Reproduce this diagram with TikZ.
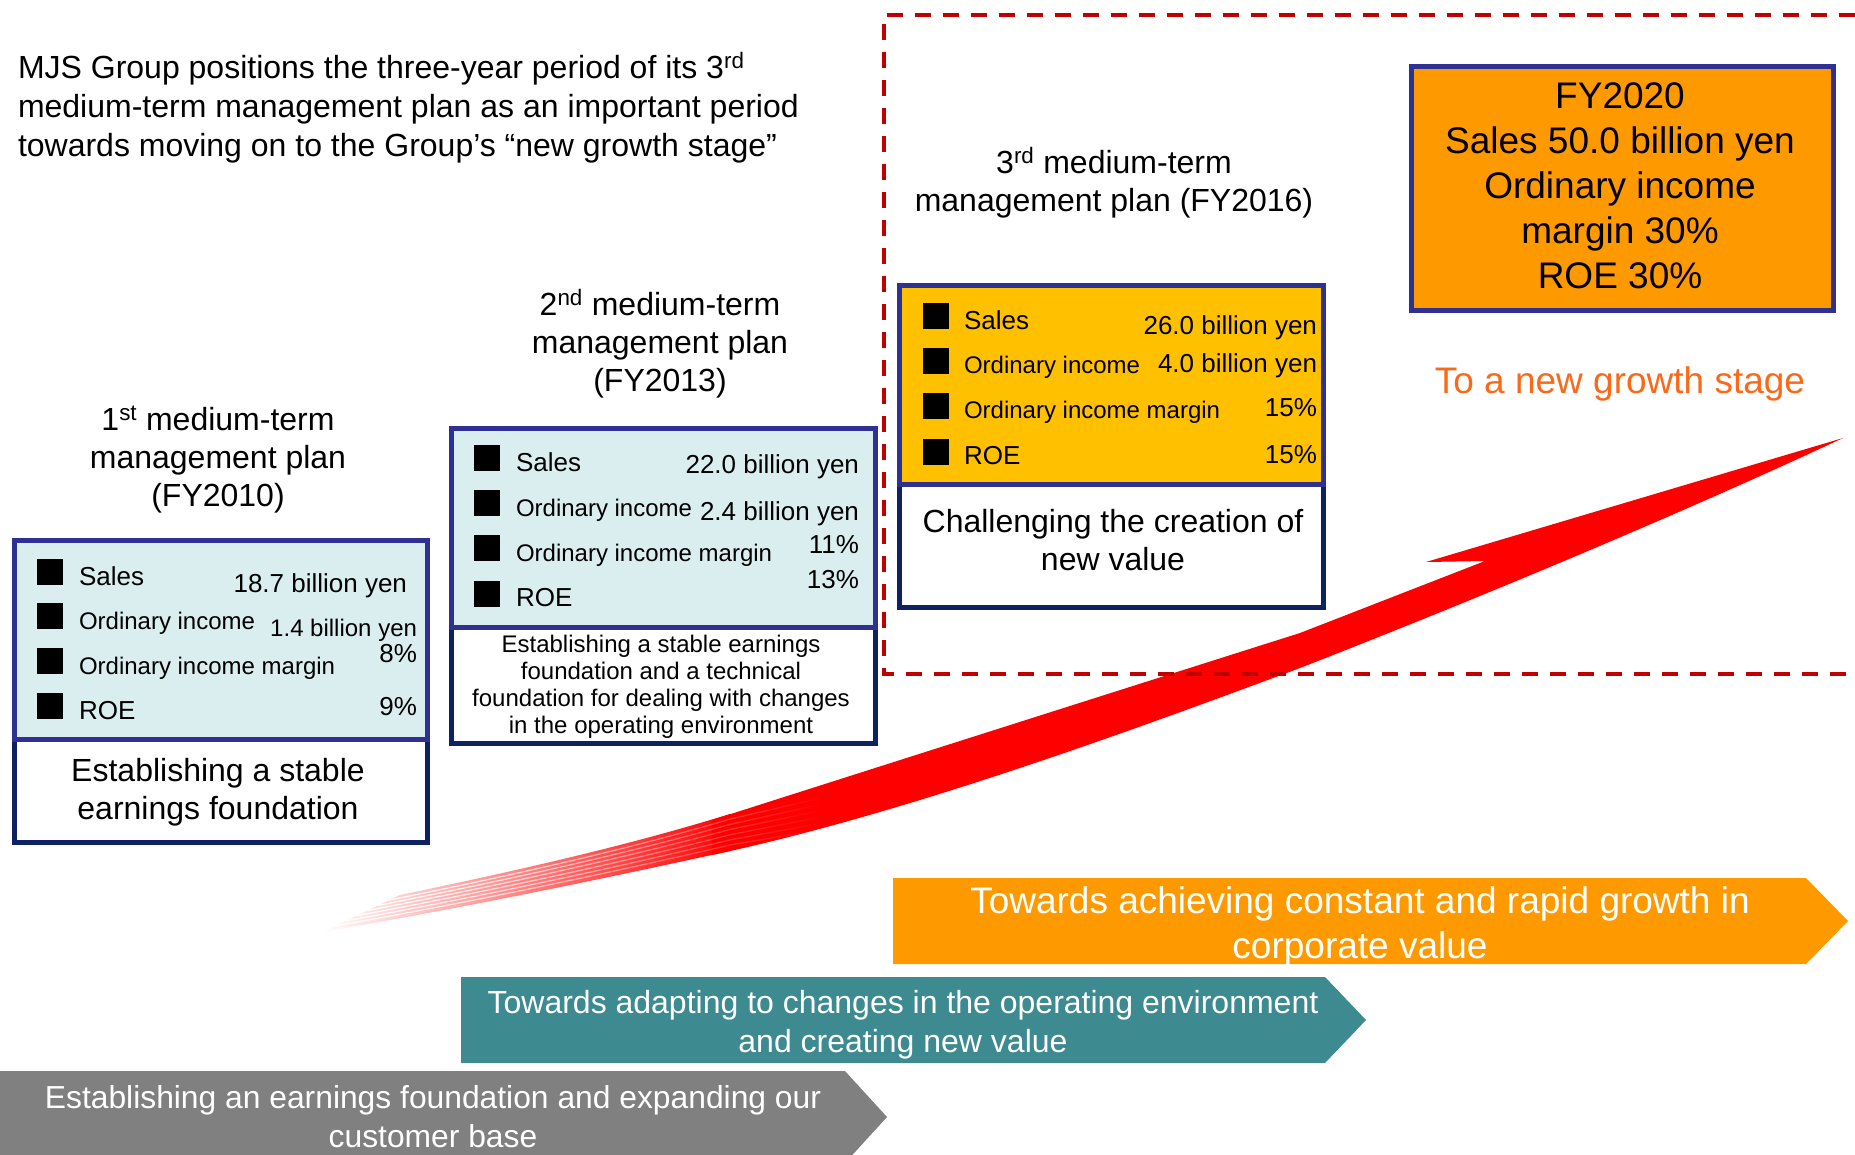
\documentclass[tikz,border=0pt]{standalone}
\usepackage{fontspec}
\setmainfont{Liberation Sans}
\usetikzlibrary{fadings}

\definecolor{navyline}{RGB}{13,33,99}
\definecolor{frameblue}{RGB}{46,49,146}
\definecolor{paleblue}{RGB}{218,238,240}
\definecolor{goldfill}{RGB}{255,192,0}
\definecolor{amberfill}{RGB}{255,153,0}
\definecolor{stageteal}{RGB}{61,139,145}
\definecolor{stagegray}{RGB}{128,128,128}
\definecolor{dashred}{RGB}{192,0,0}
\definecolor{growthorange}{RGB}{250,105,25}
\definecolor{swooshred}{RGB}{255,0,0}

\newcommand\fsz[2]{\fontsize{#1}{#2}\selectfont}

% tail of the swoosh: opaque on the right half, fading out to the left
\tikzfading[name=tailfade, left color=transparent!100, middle color=transparent!0, right color=transparent!0]
% feather gaps: visible on the left, vanishing towards the solid body
\tikzfading[name=gapfade, left color=transparent!0, right color=transparent!100]

\tikzset{
  txt/.style={inner sep=0pt, outer sep=0pt},
  lbl/.style={txt, font=\fsz{26}{31}},
  lblsm/.style={txt, font=\fsz{24}{29}},
  bulletsq/.style={fill=black, minimum size=26pt, inner sep=0pt, outer sep=0pt},
  headtext/.style={txt, align=center, font=\fsz{32}{38}},
  boxlower/.style={draw=navyline, fill=white, line width=5pt, inner sep=0pt, anchor=north west},
  boxupper/.style={draw=frameblue, line width=5pt, inner sep=0pt, anchor=north west},
  stagetext/.style={txt, align=center, text=white},
}

\begin{document}
\begin{tikzpicture}[x=1pt, y=-1pt]
\useasboundingbox (0,0) rectangle (1855,1154);

% ---- stage arrows along the bottom (multi-line nodes sit on their last baseline) ----
\fill[stagegray] (0,1071) -- (845,1071) -- (887,1117) -- (845,1163) -- (0,1163) -- cycle;
\node[stagetext, anchor=base, font=\fsz{31.8}{39}] (stage1) at (433,1147)
  {Establishing an earnings foundation and expanding our\\customer base};

\fill[stageteal] (461,977) -- (1325,977) -- (1366,1020) -- (1325,1063) -- (461,1063) -- cycle;
\node[stagetext, anchor=base, font=\fsz{32}{39}] (stage2) at (903,1052)
  {Towards adapting to changes in the operating environment\\and creating new value};

\fill[amberfill] (893,878) -- (1806,878) -- (1848,921) -- (1806,964) -- (893,964) -- cycle;
\node[stagetext, anchor=base, font=\fsz{37}{45}] (stage3) at (1360,958)
  {Towards achieving constant and rapid growth in\\corporate value};

% ---- intro text ----
\node[txt, anchor=base west, align=left, font=\fsz{32}{39}] (intro) at (18,156)
  {MJS Group positions the three-year period of its 3\textsuperscript{rd}\\
   medium-term management plan as an important period\\
   towards moving on to the Group’s “new growth stage”};

% ---- 1st plan ----
\node[headtext, anchor=base] (h1) at (218,506)
  {1\textsuperscript{st} medium-term\\management plan\\(FY2010)};
\node[boxlower, minimum width=413, minimum height=102.5] (p1low) at (11.5,737) {};
\node[boxupper, fill=paleblue, minimum width=413, minimum height=199.5] (p1up) at (11.5,537.5) {};
\node[bulletsq] (p1q1) at (49.5,572) {};
\node[bulletsq] (p1q2) at (49.5,616) {};
\node[bulletsq] (p1q3) at (49.5,661) {};
\node[bulletsq] (p1q4) at (49.5,706) {};
\node[lbl, anchor=base west] (p1l1) at (79,585) {Sales};
\node[lblsm, anchor=base west] (p1l2) at (79,629) {Ordinary income};
\node[lblsm, anchor=base west] (p1l3) at (79,674) {Ordinary income margin};
\node[lbl, anchor=base west] (p1l4) at (79,719) {ROE};
\node[lbl, anchor=base east] (p1v1) at (407,592) {18.7 billion yen};
\node[lblsm, anchor=base east] (p1v2) at (417,636) {1.4 billion yen};
\node[lbl, anchor=base east] (p1v3) at (417,662) {8\%};
\node[lbl, anchor=base east] (p1v4) at (417,715) {9\%};
\node[txt, align=center, anchor=base, font=\fsz{32}{38}] (p1goal) at (218,819)
  {Establishing a stable\\earnings foundation};

% ---- 2nd plan ----
\node[headtext, anchor=base] (h2) at (660,391)
  {2\textsuperscript{nd} medium-term\\management plan\\(FY2013)};
\node[boxlower, minimum width=424, minimum height=115.5] (p2low) at (448.5,625) {};
\node[boxupper, fill=paleblue, minimum width=424, minimum height=199.5] (p2up) at (448.5,425.5) {};
\node[bulletsq] (p2q1) at (487,458) {};
\node[bulletsq] (p2q2) at (487,503) {};
\node[bulletsq] (p2q3) at (487,548) {};
\node[bulletsq] (p2q4) at (487,594) {};
\node[lbl, anchor=base west] (p2l1) at (516,471) {Sales};
\node[lblsm, anchor=base west] (p2l2) at (516,516) {Ordinary income};
\node[lblsm, anchor=base west] (p2l3) at (516,561) {Ordinary income margin};
\node[lbl, anchor=base west] (p2l4) at (516,606) {ROE};
\node[lbl, anchor=base east] (p2v1) at (859,473) {22.0 billion yen};
\node[lbl, anchor=base east] (p2v2) at (859,520) {2.4 billion yen};
\node[lbl, anchor=base east] (p2v3) at (859,553) {11\%};
\node[lbl, anchor=base east] (p2v4) at (859,588) {13\%};
\node[txt, align=center, anchor=base, font=\fsz{24}{26.7}] (p2goal) at (661,733)
  {Establishing a stable earnings\\foundation and a technical\\foundation for dealing with changes\\in the operating environment};

% ---- 3rd plan ----
\node[headtext, anchor=base] (h3) at (1114,211)
  {3\textsuperscript{rd} medium-term\\management plan (FY2016)};
\node[boxlower, minimum width=424, minimum height=122.5] (p3low) at (896.5,482) {};
\node[boxupper, fill=goldfill, minimum width=424, minimum height=199.5] (p3up) at (896.5,282.5) {};
\node[bulletsq] (p3q1) at (935.5,316) {};
\node[bulletsq] (p3q2) at (935.5,361) {};
\node[bulletsq] (p3q3) at (935.5,406) {};
\node[bulletsq] (p3q4) at (935.5,452) {};
\node[lbl, anchor=base west] (p3l1) at (964,329) {Sales};
\node[lblsm, anchor=base west] (p3l2) at (964,373) {Ordinary income};
\node[lblsm, anchor=base west] (p3l3) at (964,418) {Ordinary income margin};
\node[lbl, anchor=base west] (p3l4) at (964,464) {ROE};
\node[lbl, anchor=base east] (p3v1) at (1317,334) {26.0 billion yen};
\node[lbl, anchor=base east] (p3v2) at (1317,372) {4.0 billion yen};
\node[lbl, anchor=base east] (p3v3) at (1317,416) {15\%};
\node[lbl, anchor=base east] (p3v4) at (1317,463) {15\%};
\node[txt, align=center, anchor=base, font=\fsz{32}{38}] (p3goal) at (1113,570)
  {Challenging the creation of\\new value};

% ---- FY2020 target ----
\node[boxupper, fill=amberfill, minimum width=422, minimum height=244] (target) at (1408.5,63.5) {};
\node[txt, align=center, anchor=base, font=\fsz{37}{45}] (targettext) at (1620,288)
  {FY2020\\Sales 50.0 billion yen\\Ordinary income\\margin 30\%\\ROE 30\%};
\node[txt, anchor=base, font=\fsz{37}{43}, text=growthorange] (newstage) at (1620,393)
  {To a new growth stage};

% ---- rising swoosh: solid body with barbed head ----
\fill[swooshred]
  (712,820) .. controls (900,760) and (1120,690) .. (1300,633)
  -- (1485,561) -- (1426,562) -- (1843,438)
  .. controls (1700,505) and (1500,590) .. (1300,668)
  .. controls (1120,735) and (900,815) .. (712,855) -- cycle;
% fading tail continuing the body edges
\fill[swooshred, path fading=tailfade]
  (400,895) .. controls (520,870) and (630,845) .. (730,814)
  -- (730,851) .. controls (620,875) and (480,905) .. (322,932) -- cycle;
% thin white gaps that split the tail into feathers
\foreach \f in {0.14,0.28,0.42,0.56,0.70,0.84} {
  \pgfmathsetmacro\sy{792+45*\f}
  \pgfmathsetmacro\ay{814+37*\f}
  \pgfmathsetmacro\bx{630-10*\f}
  \pgfmathsetmacro\by{845+30*\f}
  \pgfmathsetmacro\cx{520-40*\f}
  \pgfmathsetmacro\cy{870+35*\f}
  \pgfmathsetmacro\ex{400-78*\f}
  \pgfmathsetmacro\ey{895+37*\f}
  \draw[white, line width=1.3pt, path fading=gapfade]
    (820,\sy) -- (730,\ay) .. controls (\bx,\by) and (\cx,\cy) .. (\ex,\ey);
}

% ---- dashed frame around the next-stage area ----
\draw[dashred, line width=3.5pt, dash pattern=on 16pt off 12pt]
  (1855,15) -- (884,15) -- (884,674) -- (1855,674);

\end{tikzpicture}
\end{document}
